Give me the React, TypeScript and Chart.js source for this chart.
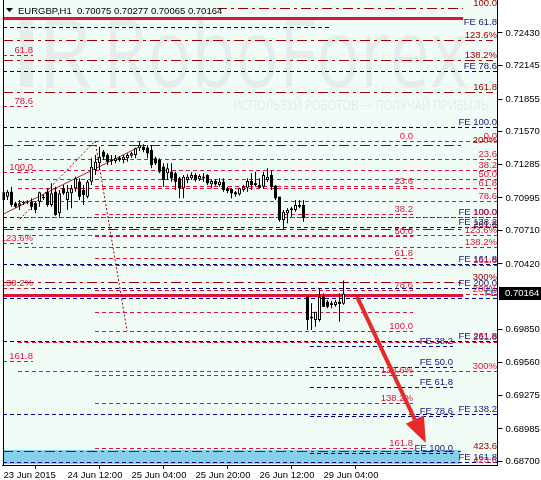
import React, { useEffect, useRef } from 'react';
import { Chart, registerables } from 'chart.js';

Chart.register(...registerables);

// ---------------- data ----------------
const symbolTitle = 'EURGBP,H1  0.70075 0.70277 0.70065 0.70164';
const watermarkText = 'RoboForex';
const watermarkSub = 'ИСПОЛЬЗУЙ РОБОТОВ — ПОЛУЧАЙ ПРИБЫЛЬ';

const xTickIndex = [0, 16, 32, 48, 64, 80];
const xTickLabels = ['23 Jun 2015', '24 Jun 12:00', '25 Jun 04:00', '25 Jun 20:00', '26 Jun 12:00', '29 Jun 04:00'];
const yTickValues = [0.7243, 0.72145, 0.71855, 0.7157, 0.71285, 0.70995, 0.7071, 0.7042, 0.6985, 0.6956, 0.69275, 0.68985, 0.687];

const candleOpen = [
  0.71044, 0.71006, 0.71049, 0.70948, 0.70927, 0.70948, 0.70955, 0.70962, 0.70948, 0.70962,
  0.70992, 0.71044, 0.70934, 0.71049, 0.70861, 0.71079, 0.70977, 0.71035, 0.71079, 0.71136,
  0.71064, 0.71006, 0.71136, 0.71238, 0.71296, 0.71397, 0.71369, 0.71325, 0.71317, 0.71345,
  0.71325, 0.7134, 0.71362, 0.71369, 0.71427, 0.71441, 0.71432, 0.71412, 0.7134, 0.71325,
  0.71267, 0.71209, 0.71223, 0.71209, 0.71166, 0.71079, 0.71151, 0.71166, 0.71194, 0.71157,
  0.7118, 0.71194, 0.71114, 0.71142, 0.71108, 0.71136, 0.71079, 0.71073, 0.71044, 0.71026,
  0.71064, 0.71084, 0.71142, 0.71122, 0.71108, 0.71093, 0.71151, 0.71194, 0.71101, 0.71006,
  0.70803, 0.70861, 0.7089, 0.7089, 0.70934, 0.70934, 0.70136, 0.69962, 0.69933, 0.69933,
  0.70136, 0.70092, 0.70078, 0.70063, 0.70092, 0.70075,
];
const candleHigh = [
  0.71093, 0.71064, 0.71093, 0.70962, 0.70977, 0.7097, 0.70975, 0.70992, 0.70962, 0.71049,
  0.7102, 0.71079, 0.71122, 0.71093, 0.71064, 0.71108, 0.71108, 0.71108, 0.7118, 0.71166,
  0.71108, 0.71151, 0.7134, 0.71369, 0.71441, 0.71412, 0.71383, 0.71369, 0.71369, 0.7136,
  0.71369, 0.71383, 0.71397, 0.71432, 0.71484, 0.71462, 0.71456, 0.71456, 0.71354, 0.7134,
  0.71296, 0.71296, 0.71296, 0.71223, 0.7118, 0.71194, 0.71201, 0.71218, 0.71209, 0.71201,
  0.71209, 0.71201, 0.71157, 0.71157, 0.71166, 0.71166, 0.71093, 0.71079, 0.71055, 0.71084,
  0.71108, 0.71166, 0.71209, 0.71223, 0.71166, 0.71223, 0.71253, 0.71238, 0.71108, 0.71006,
  0.7089, 0.70905, 0.70919, 0.70977, 0.70977, 0.70977, 0.70136, 0.70078, 0.70005, 0.70209,
  0.70165, 0.70107, 0.70101, 0.70107, 0.70165, 0.70277,
];
const candleLow = [
  0.70948, 0.70977, 0.70919, 0.7091, 0.7089, 0.70934, 0.7094, 0.7089, 0.70861, 0.70919,
  0.70977, 0.70919, 0.70919, 0.7084, 0.70832, 0.7102, 0.7089, 0.70905, 0.71049, 0.70977,
  0.70934, 0.70992, 0.71108, 0.71194, 0.71238, 0.71325, 0.71281, 0.71281, 0.71296, 0.7131,
  0.71296, 0.7131, 0.71345, 0.7134, 0.71403, 0.71392, 0.7134, 0.71253, 0.71281, 0.71209,
  0.71093, 0.71151, 0.71136, 0.71064, 0.70992, 0.70992, 0.71122, 0.71151, 0.71136, 0.71142,
  0.71136, 0.71108, 0.71079, 0.71101, 0.71093, 0.71049, 0.71035, 0.70992, 0.71006, 0.71014,
  0.71049, 0.71049, 0.71064, 0.71093, 0.71079, 0.71079, 0.71136, 0.71064, 0.70977, 0.70788,
  0.70716, 0.70774, 0.70832, 0.70875, 0.70905, 0.70788, 0.69846, 0.69846, 0.69875, 0.69918,
  0.70049, 0.70034, 0.70035, 0.70049, 0.69918, 0.70065,
];
const candleClose = [
  0.70977, 0.71049, 0.70934, 0.70919, 0.70948, 0.70962, 0.70962, 0.70919, 0.7089, 0.71044,
  0.71006, 0.70934, 0.71035, 0.70846, 0.71035, 0.71035, 0.71049, 0.71079, 0.71166, 0.71006,
  0.7102, 0.71136, 0.71267, 0.7131, 0.71354, 0.71354, 0.7131, 0.71317, 0.7134, 0.71325,
  0.71354, 0.71369, 0.71383, 0.71427, 0.71456, 0.71412, 0.71383, 0.71281, 0.71296, 0.71223,
  0.71151, 0.71253, 0.71166, 0.71136, 0.71079, 0.7118, 0.7118, 0.71194, 0.71151, 0.71186,
  0.71166, 0.71122, 0.71142, 0.71114, 0.71136, 0.71064, 0.71055, 0.71035, 0.71026, 0.71079,
  0.71093, 0.71142, 0.71108, 0.71108, 0.71084, 0.71194, 0.7118, 0.71093, 0.70992, 0.70803,
  0.70875, 0.7089, 0.70905, 0.70934, 0.70919, 0.70823, 0.69933, 0.69948, 0.70005, 0.70136,
  0.70049, 0.70049, 0.70063, 0.70092, 0.70072, 0.70164,
];

// Fibonacci expansion (dark red, dash-dot)
const expansionPrices = [0.72647, 0.72369, 0.72195, 0.71917, 0.71451, 0.70724, 0.70263, 0.68793];
const expansionLabels = ['100.0', '123.6%', '138.2%', '161.8', '200%', '261.8', '300%', '423.6'];
const expansionFrom = [53.4, -0.25, -0.25, -0.25, -0.25, -0.25, -0.25, -0.25];
const expansionTo = [114.9, 122.4, 122.4, 122.4, 114.9, 114.9, 114.9, 114.9];

// Fibonacci retracement, right side
const retraceRightPrices = [0.7149, 0.71334, 0.71238, 0.7116, 0.71081, 0.70968, 0.70825, 0.70668, 0.70568, 0.70411, 0.70159, 0.69741, 0.69489, 0.68675];
const retraceRightLabels = ['0.0', '23.6', '38.2', '50.0', '61.8', '78.6', '100.0', '123.6%', '138.2%', '161.8', '200%', '261.8', '300%', '423.6'];

// Fibonacci retracement, middle
const retraceMidPrices = [0.7149, 0.71099, 0.70859, 0.70664, 0.70468, 0.70194, 0.70002, 0.69837, 0.6945, 0.69211, 0.68819];
const retraceMidLabels = ['0.0', '23.6', '38.2', '50.0', '61.8', '78.6', '', '100.0', '123.6%', '138.2%', '161.8'];

// Fibonacci retracement, left edge
const retraceLeftPrices = [0.72238, 0.71795, 0.7122, 0.70603, 0.70211, 0.69576];
const retraceLeftLabels = ['61.8', '78.6', '100.0', '123.6%', '138.2%', '161.8'];

// Fibonacci expansion (navy), full width
const feRightPrices = [0.72482, 0.72099, 0.71612, 0.70829, 0.70742, 0.7042, 0.70211, 0.70124, 0.6975, 0.69115, 0.68697];
const feRightLabels = ['FE 61.8', 'FE 78.6', 'FE 100.0', 'FE 100.0', 'FE 138.2', 'FE 161.8', 'FE 200.0', 'FE', 'FE 261.8', 'FE 138.2', 'FE 161.8'];
const feRightTo = [81.6, 123.5, 123.5, 123.5, 123.5, 123.5, 123.5, 123.5, 123.5, 123.5, 123.5];

// Fibonacci expansion (navy), projection
const feBottomPrices = [0.69706, 0.69524, 0.6935, 0.69097, 0.68775];
const feBottomLabels = ['FE 38.2', 'FE 50.0', 'FE 61.8', 'FE 78.6', 'FE 100.0'];

// horizontal support / resistance lines
const supportPrices = [0.7256, 0.70146];
// target zone
const zonePrices = [0.68802, 0.68684];
const zoneIndex = [-0.25, 114.1];

// trend / fibo base lines
const trendX = [0, 34.9];
const trendY = [0.70855, 0.71455];
const baseUpX = [4.1, 22.9];
const baseUpY = [0.70811, 0.7149];
const baseDownX = [22.9, 30.9];
const baseDownY = [0.7149, 0.69837];
// forecast arrow
const arrowX = [88.4, 105.6];
const arrowY = [0.70133, 0.68862];

// ---------------- drawing ----------------
const FONT_FAMILY = "'Liberation Sans', Arial, sans-serif";
const FONT = "9.5px 'Liberation Sans', Arial, sans-serif";
const X_MIN = -0.25;
const X_MAX = 123.5;

type LevelSet = {
  prices: number[];
  labels: string[];
  from: number | number[];
  to: number | number[];
  labelAt: number;
  color: string;
  labelColor: string;
  dash: number[];
  width: number;
};

const levelSets: LevelSet[] = [
  { prices: expansionPrices, labels: expansionLabels, from: expansionFrom, to: expansionTo, labelAt: 123.4, color: '#A00000', labelColor: '#A00000', dash: [10, 4, 3, 4], width: 1 },
  { prices: feRightPrices, labels: feRightLabels, from: -0.25, to: feRightTo, labelAt: 123.4, color: '#000080', labelColor: '#1E1478', dash: [4, 3], width: 1 },
  { prices: feBottomPrices, labels: feBottomLabels, from: 76.6, to: 112.4, labelAt: 112.4, color: '#000080', labelColor: '#1E1478', dash: [4, 3], width: 1 },
  { prices: retraceRightPrices, labels: retraceRightLabels, from: 3.6, to: 123.5, labelAt: 123.4, color: '#DC143C', labelColor: '#E0143C', dash: [4, 3], width: 1 },
  { prices: retraceMidPrices, labels: retraceMidLabels, from: 22.9, to: 102.4, labelAt: 102.4, color: '#DC143C', labelColor: '#E0143C', dash: [4, 3], width: 1 },
  { prices: retraceLeftPrices, labels: retraceLeftLabels, from: -0.25, to: 7.4, labelAt: 7.4, color: '#DC143C', labelColor: '#E0143C', dash: [4, 3], width: 1 },
];

const pick = (v: number | number[], k: number) => (Array.isArray(v) ? v[k] : v);

const crisp = (v: number, w: number) => Math.round(v) + (w % 2 ? 0.5 : 0);

const overlayPlugin = {
  id: 'mt4overlay',
  beforeDraw(chart: any) {
    const { ctx, chartArea: a } = chart;
    ctx.save();
    ctx.fillStyle = '#FFFFFF';
    ctx.fillRect(0, 0, chart.width, chart.height);
    ctx.fillStyle = '#F2FCF7';
    ctx.fillRect(a.left, a.top, a.right - a.left, a.bottom - a.top);
    ctx.restore();
  },
  beforeDatasetsDraw(chart: any) {
    const { ctx, chartArea: a, scales } = chart;
    const xs = scales.x;
    const ys = scales.y;
    ctx.save();
    ctx.beginPath();
    ctx.rect(a.left, a.top, a.right - a.left, a.bottom - a.top);
    ctx.clip();

    // watermark
    ctx.fillStyle = '#E5EDEC';
    ctx.fillRect(20, 17, 13, 70);
    ctx.font = "96px 'Open Sans', 'Liberation Sans', sans-serif";
    ctx.textAlign = 'left';
    ctx.textBaseline = 'alphabetic';
    ctx.fillText('R', 38, 87, 54);
    ctx.fillText(watermarkText, 103, 87, 365);
    ctx.font = "15px 'Open Sans', 'Liberation Sans', sans-serif";
    ctx.fillStyle = '#E1EAE9';
    ctx.fillText(watermarkSub, 233, 110, 255);

    // target zone
    const zx0 = xs.getPixelForValue(zoneIndex[0]);
    const zx1 = xs.getPixelForValue(zoneIndex[1]);
    const zy0 = Math.round(ys.getPixelForValue(zonePrices[0]));
    const zy1 = Math.round(ys.getPixelForValue(zonePrices[1]));
    ctx.fillStyle = '#87CEEB';
    ctx.fillRect(zx0, zy0, zx1 - zx0, zy1 - zy0);

    // level lines
    levelSets.forEach((s) => {
      ctx.strokeStyle = s.color;
      ctx.lineWidth = s.width;
      ctx.setLineDash(s.dash);
      s.prices.forEach((p, k) => {
        const y = crisp(ys.getPixelForValue(p), s.width);
        const x0 = Math.round(xs.getPixelForValue(pick(s.from, k)));
        const x1 = Math.round(xs.getPixelForValue(pick(s.to, k)));
        ctx.beginPath();
        ctx.moveTo(x0, y);
        ctx.lineTo(x1, y);
        ctx.stroke();
      });
    });

    // thick horizontal lines
    ctx.setLineDash([]);
    ctx.strokeStyle = '#DC143C';
    ctx.lineWidth = 3;
    supportPrices.forEach((p) => {
      const y = crisp(ys.getPixelForValue(p), 3);
      ctx.beginPath();
      ctx.moveTo(xs.getPixelForValue(-0.25), y);
      ctx.lineTo(xs.getPixelForValue(114.9), y);
      ctx.stroke();
    });

    // trend / base lines
    const seg = (X: number[], Y: number[], color: string, dash: number[]) => {
      ctx.strokeStyle = color;
      ctx.lineWidth = 1;
      ctx.setLineDash(dash);
      ctx.beginPath();
      ctx.moveTo(xs.getPixelForValue(X[0]), ys.getPixelForValue(Y[0]));
      ctx.lineTo(xs.getPixelForValue(X[1]), ys.getPixelForValue(Y[1]));
      ctx.stroke();
    };
    seg(trendX, trendY, '#A52A2A', []);
    seg(baseUpX, baseUpY, '#A00000', [2, 2]);
    seg(baseDownX, baseDownY, '#A00000', [2, 2]);
    ctx.setLineDash([]);

    // labels
    ctx.font = FONT;
    ctx.textAlign = 'right';
    ctx.textBaseline = 'alphabetic';
    levelSets.forEach((s) => {
      ctx.fillStyle = s.labelColor;
      const lx = Math.round(xs.getPixelForValue(s.labelAt));
      s.prices.forEach((p, k) => {
        if (!s.labels[k]) return;
        const y = Math.round(ys.getPixelForValue(p));
        ctx.fillText(s.labels[k], lx, y - 2);
      });
    });
    ctx.restore();
  },
  afterDatasetsDraw(chart: any) {
    const { ctx, chartArea: a, scales } = chart;
    const xs = scales.x;
    const ys = scales.y;
    ctx.save();
    ctx.beginPath();
    ctx.rect(a.left, a.top, a.right - a.left, a.bottom - a.top);
    ctx.clip();
    // arrow
    const x0 = xs.getPixelForValue(arrowX[0]);
    const y0 = ys.getPixelForValue(arrowY[0]);
    const x1 = xs.getPixelForValue(arrowX[1]);
    const y1 = ys.getPixelForValue(arrowY[1]);
    const dx = x1 - x0;
    const dy = y1 - y0;
    const len = Math.hypot(dx, dy);
    const ux = dx / len;
    const uy = dy / len;
    const hl = 26;
    const hw = 10;
    const bx = x1 - ux * hl;
    const by = y1 - uy * hl;
    ctx.strokeStyle = '#E62A2A';
    ctx.fillStyle = '#E62A2A';
    ctx.lineWidth = 4;
    ctx.beginPath();
    ctx.moveTo(x0, y0);
    ctx.lineTo(bx, by);
    ctx.stroke();
    ctx.beginPath();
    ctx.moveTo(x1, y1);
    ctx.lineTo(bx - uy * hw, by + ux * hw);
    ctx.lineTo(bx + uy * hw, by - ux * hw);
    ctx.closePath();
    ctx.fill();
    ctx.restore();
  },
  afterDraw(chart: any) {
    const { ctx, chartArea: a, scales } = chart;
    const ys = scales.y;
    ctx.save();
    // left frame line
    ctx.strokeStyle = '#000';
    ctx.lineWidth = 1;
    ctx.beginPath();
    ctx.moveTo(Math.round(a.left) + 0.5, a.top);
    ctx.lineTo(Math.round(a.left) + 0.5, a.bottom);
    ctx.stroke();
    // title
    ctx.fillStyle = '#000';
    ctx.beginPath();
    ctx.moveTo(6, 8);
    ctx.lineTo(13, 8);
    ctx.lineTo(9.5, 12);
    ctx.closePath();
    ctx.fill();
    ctx.font = FONT;
    ctx.textAlign = 'left';
    ctx.textBaseline = 'alphabetic';
    ctx.fillText(symbolTitle, 18, 14);
    // current price label
    const last = candleClose[candleClose.length - 1];
    const py = Math.round(ys.getPixelForValue(last));
    ctx.fillStyle = '#000';
    ctx.fillRect(Math.round(a.right) + 1, py - 6, chart.width - Math.round(a.right) - 1, 13);
    ctx.fillStyle = '#FFF';
    ctx.textBaseline = 'middle';
    ctx.fillText(last.toFixed(5), 505, py + 0.5);
    ctx.restore();
  },
};

export default function App() {
  const ref = useRef<HTMLCanvasElement>(null);
  useEffect(() => {
    const canvas = ref.current;
    if (!canvas) return;
    const idx = candleOpen.map((_, i) => i);
    const wickData = idx.map((i) => ({ x: i, y: [candleLow[i], candleHigh[i]] }));
    const bullData = idx
      .filter((i) => candleClose[i] >= candleOpen[i])
      .map((i) => ({ x: i, y: [candleOpen[i], candleClose[i]] }));
    const bearData = idx
      .filter((i) => candleClose[i] < candleOpen[i])
      .map((i) => ({ x: i, y: [candleClose[i], candleOpen[i]] }));

    const chart = new Chart(canvas, {
      type: 'bar',
      data: {
        datasets: [
          { data: bullData as any, backgroundColor: '#FFFFFF', borderColor: '#000000', borderWidth: 1, borderSkipped: false, barThickness: 3, minBarLength: 1, grouped: false, order: 1, inflateAmount: 0 } as any,
          { data: bearData as any, backgroundColor: '#000000', borderWidth: 0, barThickness: 3, minBarLength: 1, grouped: false, order: 2, inflateAmount: 0 } as any,
          { data: wickData as any, backgroundColor: '#000000', borderWidth: 0, barThickness: 1, grouped: false, order: 3, inflateAmount: 0 } as any,
        ],
      },
      options: {
        animation: false,
        responsive: false,
        devicePixelRatio: 1,
        layout: { padding: { left: 2.5, top: 0, right: 0, bottom: 0 } },
        plugins: { legend: { display: false }, tooltip: { enabled: false } },
        scales: {
          x: {
            type: 'linear',
            min: X_MIN,
            max: X_MAX,
            offset: false,
            afterBuildTicks: (scale: any) => {
              scale.ticks = xTickIndex.map((v) => ({ value: v }));
            },
            afterFit: (scale: any) => {
              scale.height = 15;
              scale.paddingLeft = 0;
              scale.paddingRight = 0;
            },
            ticks: {
              autoSkip: false,
              maxRotation: 0,
              align: 'start',
              padding: 1,
              color: '#000',
              font: { family: FONT_FAMILY, size: 9.5 },
              callback: (_v: any, i: number) => xTickLabels[i],
            },
            grid: { drawOnChartArea: false, drawTicks: true, tickLength: 4, color: '#000' },
            border: { display: true, color: '#000', width: 1 },
          },
          y: {
            type: 'linear',
            position: 'right',
            min: 0.68671,
            max: 0.72717,
            afterBuildTicks: (scale: any) => {
              scale.ticks = yTickValues.map((v) => ({ value: v }));
            },
            afterFit: (scale: any) => {
              scale.width = 43.5;
              scale.paddingTop = 0;
              scale.paddingBottom = 0;
            },
            ticks: {
              autoSkip: false,
              padding: 3,
              color: '#000',
              font: { family: FONT_FAMILY, size: 9.5 },
              callback: (v: any) => Number(v).toFixed(5),
            },
            grid: { drawOnChartArea: false, drawTicks: true, tickLength: 5, color: '#000' },
            border: { display: true, color: '#000', width: 1 },
          },
        },
      },
      plugins: [overlayPlugin],
    } as any);
    return () => chart.destroy();
  }, []);

  return (
    <div style={{ position: 'fixed', left: 0, top: 0, width: 541, height: 480, background: '#fff' }}>
      <canvas ref={ref} width={541} height={480} style={{ display: 'block', width: 541, height: 480 }} />
    </div>
  );
}
